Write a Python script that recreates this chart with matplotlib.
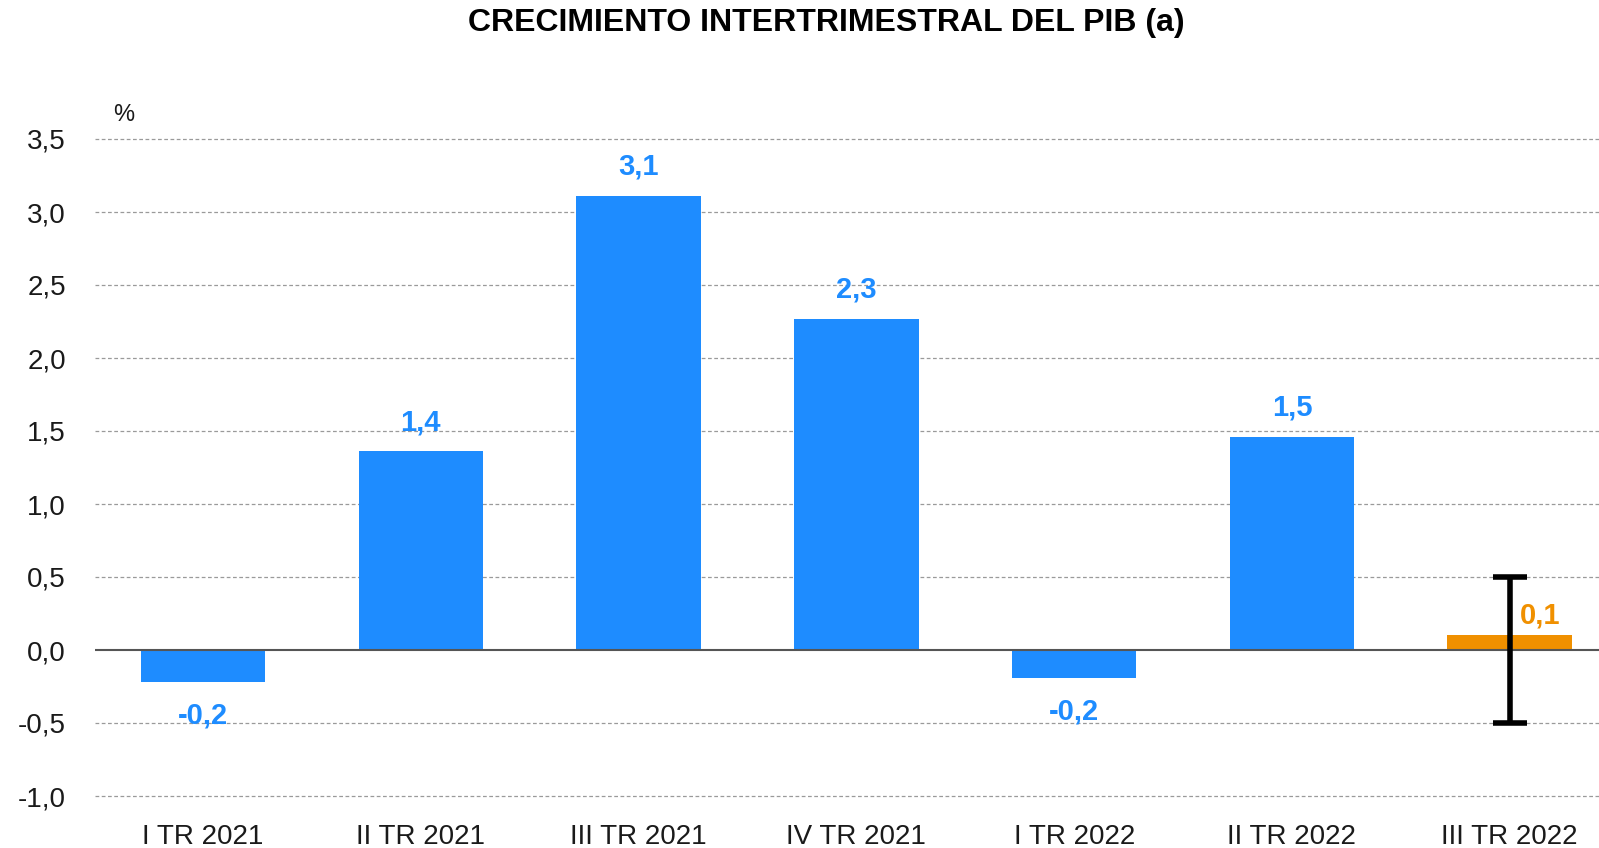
import matplotlib.pyplot as plt
import numpy as np

# ---------- datos ----------
trimestres = ["I TR 2021", "II TR 2021", "III TR 2021", "IV TR 2021",
              "I TR 2022", "II TR 2022", "III TR 2022"]
crecimiento = [-0.22, 1.36, 3.11, 2.27, -0.19, 1.46, 0.10]
etiquetas = ["-0,2", "1,4", "3,1", "2,3", "-0,2", "1,5", "0,1"]
err_inf = -0.5     # rango de la previsión III TR 2022
err_sup = 0.5
yticks = [-1.0, -0.5, 0.0, 0.5, 1.0, 1.5, 2.0, 2.5, 3.0, 3.5]

AZUL = "#1E8CFF"
NARANJA = "#F09000"

plt.rcParams["font.family"] = ["Liberation Sans", "DejaVu Sans"]

fig = plt.figure(figsize=(15.99, 8.48), dpi=100)
ax = fig.add_axes([95 / 1599, 1 - 796 / 848, 1 - 95 / 1599, (796 - 139) / 848])

x = np.arange(len(trimestres))
colores = [AZUL] * (len(trimestres) - 1) + [NARANJA]
ax.bar(x, crecimiento, width=0.572, color=colores, zorder=2)

# horquilla de la previsión
ax.errorbar(x[-1], (err_inf + err_sup) / 2, yerr=(err_sup - err_inf) / 2,
            fmt="none", ecolor="black", elinewidth=4, capsize=12, capthick=4, zorder=4)

# etiquetas de valor
for xi, v, t, c in zip(x, crecimiento, etiquetas, colores):
    if c == NARANJA:
        off = (22, 14)
    elif v >= 0:
        off = (0, 21)
    else:
        off = (0, -24)
    ax.annotate(t, (xi, v), xytext=off, textcoords="offset points",
                ha="center", va="center", color=c, fontsize=21, fontweight="bold")

ax.set_xlim(-0.496, 6.41)
ax.set_ylim(-1.0, 3.5)
ax.set_yticks(yticks)
ax.set_yticklabels([f"{v:.1f}".replace(".", ",") for v in yticks])
ax.set_xticks(x)
ax.set_xticklabels(trimestres)
ax.tick_params(axis="y", length=0, pad=21, labelsize=20, labelcolor="#1a1a1a")
ax.tick_params(axis="x", length=0, pad=20, labelsize=20, labelcolor="#1a1a1a")

for y in yticks:
    if y != 0:
        ax.axhline(y, color="#9a9a9a", linewidth=0.9, linestyle=(0, (3, 2)),
                   zorder=1, clip_on=False)
ax.axhline(0, color="#555555", linewidth=1.5, zorder=3)

for s in ax.spines.values():
    s.set_visible(False)

ax.text(0.012, 1.02, "%", transform=ax.transAxes, fontsize=17, color="#1a1a1a",
        ha="left", va="bottom")

fig.text(826 / 1599, 1 - 23 / 848, "CRECIMIENTO INTERTRIMESTRAL DEL PIB (a)",
         ha="center", va="center", fontsize=23, fontweight="bold")

fig.savefig("out.png", dpi=100)
